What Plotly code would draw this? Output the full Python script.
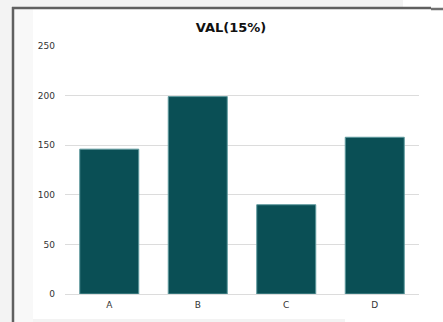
import plotly.graph_objects as go

categories = ["A", "B", "C", "D"]
values = [146, 199, 90, 158]
y_ticks = [0, 50, 100, 150, 200, 250]

W, H = 443, 322
ML, MR, MT, MB = 65, 24, 46, 28
PW, PH = W - ML - MR, H - MT - MB


def px(x):
    return (x - ML) / PW


def py(y):
    return (H - MB - y) / PH


fig = go.Figure(
    go.Bar(
        x=categories,
        y=values,
        marker=dict(color="#0a4f55", line=dict(color="#5f9a9e", width=1)),
    )
)

shapes = [
    dict(type="rect", x0=px(0), x1=px(12), y0=py(0), y1=py(H), fillcolor="#f3f3f3", line_width=0),
    dict(type="rect", x0=px(0), x1=px(403), y0=py(0), y1=py(7), fillcolor="#f3f3f3", line_width=0),
    dict(type="rect", x0=px(14), x1=px(33), y0=py(9), y1=py(H), fillcolor="#f8f8f8", line_width=0),
    dict(type="rect", x0=px(33), x1=px(345), y0=py(319), y1=py(H), fillcolor="#f3f3f3", line_width=0),
    dict(type="line", x0=px(13), x1=px(13), y0=py(7), y1=py(H), line=dict(color="#606060", width=2.5)),
    dict(type="line", x0=px(12), x1=px(431), y0=py(8), y1=py(8), line=dict(color="#606060", width=2.5)),
    dict(type="line", x0=px(431), x1=px(W), y0=py(9), y1=py(9), line=dict(color="#707070", width=2.5)),
]
for s in shapes:
    s.update(xref="paper", yref="paper", layer="below")

fig.update_layout(
    width=W,
    height=H,
    margin=dict(l=ML, r=MR, t=MT, b=MB, pad=0),
    paper_bgcolor="white",
    plot_bgcolor="white",
    bargap=0.333,
    showlegend=False,
    title=dict(
        text="<b>VAL(15%)</b>",
        x=px(231),
        xref="paper",
        xanchor="center",
        y=1 - 27 / H,
        yanchor="middle",
        font=dict(family="DejaVu Sans", size=13, color="#111111"),
    ),
    shapes=shapes,
    font=dict(family="DejaVu Sans", size=9, color="#333333"),
)
fig.update_yaxes(
    range=[0, 250],
    tickvals=y_ticks,
    showgrid=True,
    gridcolor="#dcdcdc",
    gridwidth=1,
    zeroline=True,
    zerolinecolor="#dcdcdc",
    zerolinewidth=1,
    showline=False,
    ticks="",
    ticklabelstandoff=9,
    tickfont=dict(family="DejaVu Sans", size=9, color="#333333"),
)
fig.update_xaxes(
    showgrid=False,
    showline=False,
    ticks="",
    ticklabelstandoff=4,
    tickfont=dict(family="DejaVu Sans", size=9, color="#333333"),
)

fig.write_html("out.html")
